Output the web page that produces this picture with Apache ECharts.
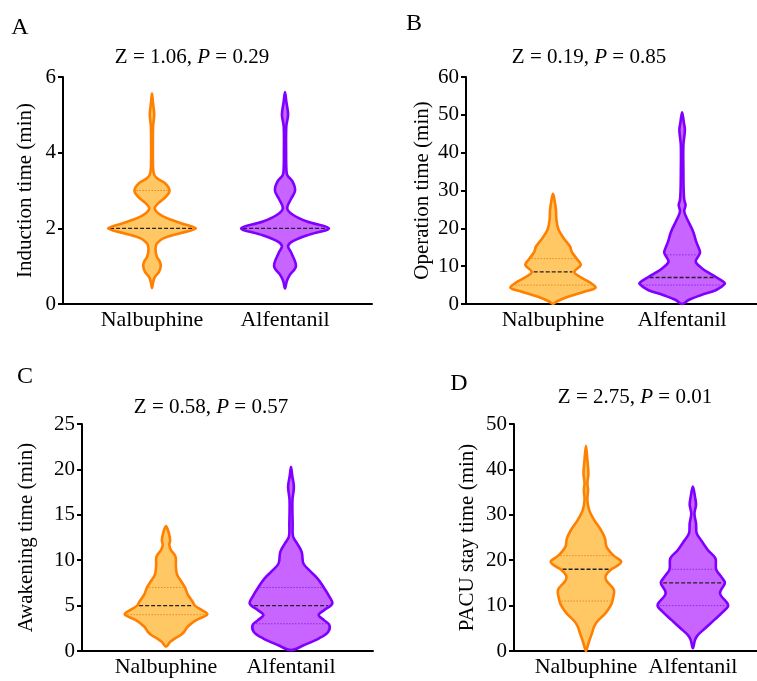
<!DOCTYPE html>
<html>
<head>
<meta charset="utf-8">
<script src="https://cdn.jsdelivr.net/npm/echarts@6/dist/echarts.min.js"></script>
<style>
  html, body { margin: 0; padding: 0; background: #fff; }
  #chart { width: 757px; height: 681px; }
</style>
</head>
<body>
<div id="chart"></div>
<script>
// groups
const groups = ['Nalbuphine', 'Alfentanil'];

// violin outlines: [value, relative half-width]
const inductionNal = [[5.57,0],[5.35,0.02],[5.0,0.05],[4.7,0.025],[4.0,0.02],[3.6,0.025],[3.42,0.05],[3.32,0.12],[3.19,0.3],[3.0,0.4],[2.84,0.32],[2.66,0.14],[2.53,0.06],[2.4,0.14],[2.27,0.34],[2.13,0.68],[2.0,1],[1.87,0.64],[1.74,0.27],[1.6,0.11],[1.45,0.08],[1.25,0.11],[1.12,0.18],[1.0,0.2],[0.85,0.16],[0.72,0.07],[0.6,0.03],[0.42,0]];
const inductionAlf = [[5.6,0],[5.35,0.03],[5.0,0.07],[4.7,0.03],[4.0,0.025],[3.6,0.03],[3.41,0.05],[3.24,0.17],[3.0,0.23],[2.78,0.14],[2.53,0.05],[2.36,0.18],[2.18,0.5],[2.0,1],[1.84,0.57],[1.66,0.18],[1.53,0.07],[1.36,0.14],[1.0,0.25],[0.77,0.11],[0.6,0.04],[0.41,0]];
const operationNal = [[29.1,0],[27.5,0.035],[24.8,0.07],[22.2,0.08],[19.6,0.13],[17.4,0.25],[15.2,0.4],[13.8,0.44],[11.9,0.56],[10.3,0.65],[8.5,0.5],[7.2,0.63],[5.5,0.89],[4.3,1],[3.3,0.75],[1.9,0.35],[0.6,0.08],[0,0]];
const operationAlf = [[50.7,0],[48,0.04],[46,0.065],[42,0.03],[35,0.03],[30.6,0.035],[27.5,0.05],[26.2,0.08],[24.4,0.05],[22.2,0.13],[19.1,0.26],[16.5,0.33],[13.8,0.42],[13.0,0.4],[11.2,0.32],[9.4,0.47],[7.7,0.71],[5.9,0.97],[5.3,1],[3.7,0.8],[2.4,0.45],[1.06,0.15],[0,0]];
const awakeningNal = [[13.77,0],[12.96,0.07],[12.2,0.1],[11.7,0.08],[11.1,0.12],[10.4,0.23],[9.3,0.24],[8.4,0.27],[7.6,0.38],[7.0,0.46],[6.2,0.53],[5.4,0.65],[5.0,0.7],[4.5,0.87],[4.04,1],[3.4,0.73],[2.7,0.53],[2.1,0.44],[1.76,0.36],[1.4,0.22],[1.0,0.1],[0.47,0]];
const awakeningAlf = [[20.3,0],[19.3,0.03],[18.1,0.07],[16.6,0.035],[14,0.04],[12.6,0.05],[11.9,0.14],[10.9,0.26],[9.65,0.3],[8.9,0.44],[8.0,0.64],[7.1,0.78],[6.0,0.93],[5.2,1],[4.5,0.8],[3.96,0.67],[3.4,0.8],[2.86,0.93],[2.1,0.9],[1.4,0.68],[0.66,0.32],[0.1,0]];
const pacuNal = [[45.2,0],[42.1,0.04],[39.1,0.07],[36.9,0.04],[35.5,0.06],[33.3,0.04],[31.1,0.09],[28.9,0.23],[26.7,0.42],[24.8,0.54],[23.0,0.58],[21.1,0.77],[19.7,1],[18.6,0.85],[18.0,0.72],[16.6,0.56],[15.5,0.58],[13.5,0.79],[11.0,0.75],[10.0,0.7],[8.3,0.55],[6.5,0.32],[5.35,0.23],[3.9,0.17],[2.4,0.1],[0.6,0.03],[0,0]];
const pacuAlf = [[36.2,0],[34,0.06],[32.2,0.09],[30.3,0.045],[28.1,0.09],[25.9,0.11],[24.1,0.26],[22.2,0.43],[20.4,0.64],[18,0.66],[16.4,0.8],[15.3,0.9],[14.75,0.9],[12.7,0.77],[10.1,1],[8.66,0.86],[6.8,0.6],[5.0,0.35],[3.5,0.14],[2.4,0.06],[0.6,0]];

// [Q1, median, Q3]
const inductionQ = [[2, 2, 3], [2, 2, 2]];
const operationQ = [[5, 8.5, 12], [5, 7, 13]];
const awakeningQ = [[4, 5, 7], [3, 5, 7]];
const pacuQ = [[11, 18, 21], [10, 15, 18]];

const yNames = ['Induction time (min)', 'Operation time (min)', 'Awakening time (min)', 'PACU stay time (min)'];
const yMax = [6, 60, 25, 50];
const yStep = [2, 10, 5, 10];
const stats = [['1.06', '0.29'], ['0.19', '0.85'], ['0.58', '0.57'], ['2.75', '0.01']];
const letters = ['A', 'B', 'C', 'D'];

const FONT = 'Liberation Serif';
const HALF = 0.33;
const colors = [
  { fill: '#FFC864', stroke: '#FF7F00', dot: '#E88A1A' },
  { fill: '#C864FF', stroke: '#7F00FF', dot: '#8A2BE2' }
];

const panels = [
  { shapes: [inductionNal, inductionAlf], q: inductionQ, grid: { left: 63, right: 385, top: 77, bottom: 377 }, xr: [0.331, 2.654], gap: 27, title: [192, 57], letter: [20, 28] },
  { shapes: [operationNal, operationAlf], q: operationQ, grid: { left: 466, right: 0, top: 77, bottom: 377 }, xr: [0.326, 2.58], gap: 33, title: [589, 57], letter: [414, 24] },
  { shapes: [awakeningNal, awakeningAlf], q: awakeningQ, grid: { left: 82, right: 384, top: 424, bottom: 30 }, xr: [0.328, 2.656], gap: 45, title: [211, 407], letter: [25, 377] },
  { shapes: [pacuNal, pacuAlf], q: pacuQ, grid: { left: 514, right: 0, top: 424, bottom: 30 }, xr: [0.327, 2.6], gap: 36, title: [635, 397], letter: [459, 384] }
];

function widthAt(profile, v) {
  for (let i = 0; i < profile.length - 1; i++) {
    const a = profile[i], b = profile[i + 1];
    if (v <= a[0] && v >= b[0]) {
      const t = a[0] === b[0] ? 0 : (a[0] - v) / (a[0] - b[0]);
      return a[1] + (b[1] - a[1]) * t;
    }
  }
  return 0;
}

function violin(profile, quart, col) {
  return function (params, api) {
    const cx = api.value(0);
    const right = profile.map(p => api.coord([cx + p[1] * HALF, p[0]]));
    const left = profile.slice(1, -1).reverse().map(p => api.coord([cx - p[1] * HALF, p[0]]));
    const pts = right.concat(left);
    const lines = [];
    const mk = (v, style) => {
      const w = widthAt(profile, v) * HALF;
      const a = api.coord([cx - w, v]), b = api.coord([cx + w, v]);
      lines.push({ type: 'line', shape: { x1: a[0] + 2, y1: a[1], x2: b[0] - 2, y2: b[1] }, style: style });
    };
    const dotted = { stroke: col.dot, lineWidth: 1, lineDash: [1.5, 1.5] };
    if (quart[0] !== quart[1]) mk(quart[0], dotted);
    if (quart[2] !== quart[1]) mk(quart[2], dotted);
    mk(quart[1], { stroke: '#222', lineWidth: 1.4, lineDash: [4, 2] });
    return {
      type: 'group',
      children: [
        { type: 'polygon', shape: { points: pts, smooth: 0.35 }, style: { fill: col.fill, stroke: null } },
        ...lines,
        { type: 'polygon', shape: { points: pts, smooth: 0.35 }, style: { fill: null, stroke: col.stroke, lineWidth: 2.6 } }
      ]
    };
  };
}

const grid = [], xAxis = [], yAxis = [], series = [], graphic = [];
panels.forEach((p, k) => {
  grid.push(p.grid);
  xAxis.push({
    type: 'value', gridIndex: k, min: p.xr[0], max: p.xr[1],
    axisLine: { lineStyle: { color: '#000', width: 2 } },
    axisTick: { show: false },
    splitLine: { show: false },
    axisLabel: {
      customValues: [1, 2],
      formatter: v => groups[Math.round(v) - 1],
      color: '#000', fontFamily: FONT, fontSize: 22, margin: 5
    }
  });
  yAxis.push({
    type: 'value', gridIndex: k, min: 0, max: yMax[k], interval: yStep[k],
    name: yNames[k], nameLocation: 'middle', nameGap: p.gap,
    nameTextStyle: { color: '#000', fontFamily: FONT, fontSize: 21 },
    axisLine: { show: true, lineStyle: { color: '#000', width: 2 } },
    axisTick: { show: true, length: 5, lineStyle: { color: '#000', width: 2 } },
    splitLine: { show: false },
    axisLabel: { color: '#000', fontFamily: FONT, fontSize: 21, margin: 7 }
  });
  p.shapes.forEach((shape, j) => {
    series.push({
      type: 'custom', xAxisIndex: k, yAxisIndex: k,
      data: [[j + 1, 0]],
      encode: { x: 0, y: 1 },
      renderItem: violin(shape, p.q[j], colors[j]),
      silent: true
    });
  });
  graphic.push({
    type: 'text', x: p.title[0], y: p.title[1],
    style: {
      text: '{n|Z = ' + stats[k][0] + ', }{i|P}{n| = ' + stats[k][1] + '}',
      align: 'center', verticalAlign: 'middle',
      rich: {
        n: { fontFamily: FONT, fontSize: 21, fill: '#000' },
        i: { fontFamily: FONT, fontSize: 21, fontStyle: 'italic', fill: '#000' }
      }
    }
  });
  graphic.push({
    type: 'text', x: p.letter[0], y: p.letter[1],
    style: { text: letters[k], font: '24px "Liberation Serif"', fill: '#000', align: 'center', verticalAlign: 'middle' }
  });
});

const chart = echarts.init(document.getElementById('chart'), null, { renderer: 'canvas' });
chart.setOption({
  animation: false,
  backgroundColor: '#fff',
  grid, xAxis, yAxis, series, graphic
});
</script>
</body>
</html>
